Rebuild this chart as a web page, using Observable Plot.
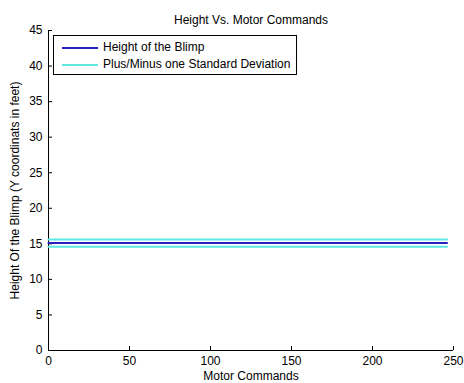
<!DOCTYPE html>
<html><head><meta charset="utf-8">
<script src="https://cdn.jsdelivr.net/npm/d3@7"></script>
<script src="https://cdn.jsdelivr.net/npm/@observablehq/plot@0.6"></script>
<style>
body{margin:0;background:#fff;}
#wrap{position:relative;width:464px;height:383px;font-family:"Liberation Sans",Arial,sans-serif;}
#legend{position:absolute;left:53px;top:35px;width:244px;height:40px;border:1px solid #000;background:#fff;box-sizing:border-box;font-size:12px;color:#000;}
.row{position:absolute;left:8px;height:14px;line-height:14px;white-space:nowrap;}
.sw{display:inline-block;width:36px;height:0;border-top:2px solid;vertical-align:middle;margin-right:5px;}
</style></head>
<body><div id="wrap"></div>
<script>
const titleText = "Height Vs. Motor Commands";
const xLabel = "Motor Commands";
const yLabel = "Height Of the Blimp (Y coordinats in feet)";
const seriesNames = ["Height of the Blimp", "Plus/Minus one Standard Deviation"];
const seriesColors = ["#2a1fbf", "#5ee8e0"];
const motorCommands = [0, 246];
const heightMean = [15.1, 15.1];
const heightUpper = [15.6, 15.6];
const heightLower = [14.6, 14.6];
const xTicks = [0, 50, 100, 150, 200, 250];
const yTicks = [0, 5, 10, 15, 20, 25, 30, 35, 40, 45];

const mk = arr => motorCommands.map((x, i) => ({x, y: arr[i]}));
const chart = Plot.plot({
  width: 464, height: 383,
  marginLeft: 48, marginRight: 11, marginTop: 30, marginBottom: 33,
  style: {fontFamily: "Liberation Sans, Arial, sans-serif", fontSize: "12px", color: "#000", background: "#fff"},
  x: {domain: [0, 250]},
  y: {domain: [0, 45]},
  marks: [
    Plot.axisX(xTicks, {tickSize: -4, tickPadding: 10, stroke: "#000", label: xLabel, labelAnchor: "center", labelOffset: 29, labelArrow: "none", fontSize: 12}),
    Plot.axisY(yTicks, {tickSize: -4, tickPadding: 10, stroke: "#000", label: yLabel, labelAnchor: "center", labelOffset: 38, labelArrow: "none", fontSize: 12}),
    Plot.ruleX([0], {stroke: "#000"}),
    Plot.ruleY([0], {stroke: "#000"}),
    Plot.line(mk(heightUpper), {x: "x", y: "y", stroke: seriesColors[1], strokeWidth: 2}),
    Plot.line(mk(heightLower), {x: "x", y: "y", stroke: seriesColors[1], strokeWidth: 2}),
    Plot.line(mk(heightMean), {x: "x", y: "y", stroke: seriesColors[0], strokeWidth: 2}),
    Plot.text([titleText], {frameAnchor: "top", dy: -15, fontSize: 12, fill: "#000"})
  ]
});
const wrap = document.getElementById("wrap");
wrap.appendChild(chart);
const lg = document.createElement("div");
lg.id = "legend";
seriesNames.forEach((n, i) => {
  const r = document.createElement("div");
  r.className = "row";
  r.style.top = (i === 0 ? 4 : 21) + "px";
  r.innerHTML = `<span class="sw" style="border-color:${seriesColors[i]}"></span>${n}`;
  lg.appendChild(r);
});
wrap.appendChild(lg);
</script></body></html>
